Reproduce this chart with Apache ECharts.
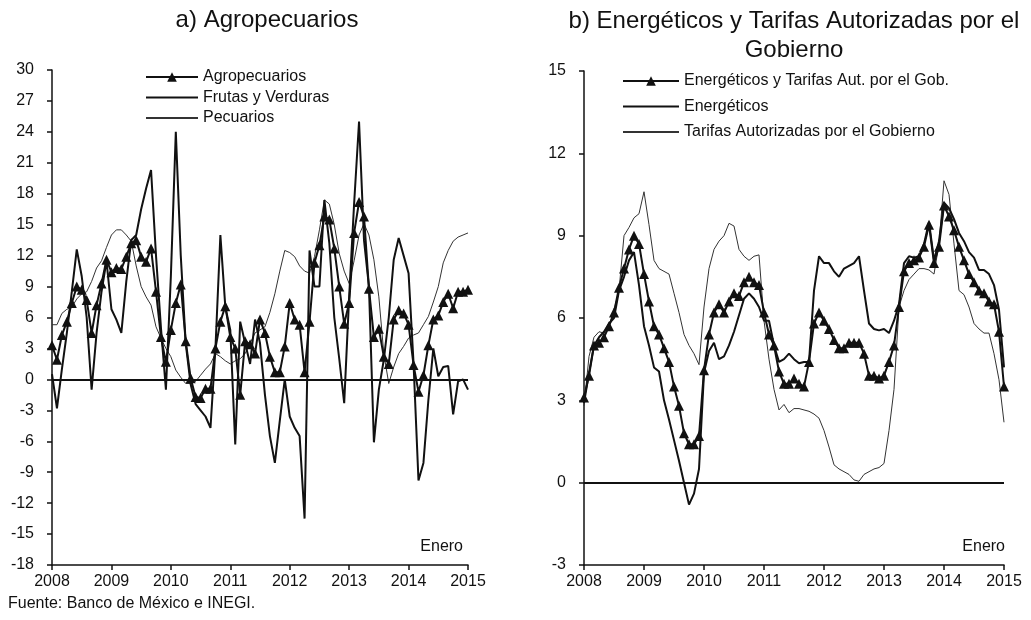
<!DOCTYPE html>
<html>
<head>
<meta charset="utf-8">
<script src="https://cdn.jsdelivr.net/npm/echarts@6/dist/echarts.min.js"></script>
<style>
  html, body { margin: 0; padding: 0; background: #fff; }
  #chart { width: 1031px; height: 620px; }
</style>
</head>
<body>
<div id="chart"></div>
<script>
/* === Data (monthly, Jan 2008 - Jan 2015) === */
const yearLabels = ['2008', '2009', '2010', '2011', '2012', '2013', '2014', '2015'];
const leftTicks = [-18, -15, -12, -9, -6, -3, 0, 3, 6, 9, 12, 15, 18, 21, 24, 27, 30];
const rightTicks = [-3, 0, 3, 6, 9, 12, 15];

const agropecuarios = [
  3.3, 1.9, 4.3, 5.6, 7.4, 9.0, 8.7, 7.7, 4.5, 7.2, 9.3, 11.6,
  10.4, 10.8, 10.7, 11.9, 13.2, 13.5, 11.9, 11.4, 12.7, 8.5, 4.1, 1.7,
  4.8, 7.4, 9.2, 3.7, 0.1, -1.7, -1.8, -0.9, -0.9, 3.0, 5.6, 7.1,
  4.1, 3.0, -1.5, 3.7, 3.4, 2.5, 5.8, 4.5, 2.2, 0.7, 0.7, 3.2,
  7.4, 5.8, 5.3, 0.7, 5.6, 11.3, 13.0, 15.8, 15.5, 12.7, 9.0, 5.4,
  7.4, 14.2, 17.2, 15.8, 8.8, 4.1, 4.9, 2.2, 1.5, 5.8, 6.7, 6.4,
  5.3, 1.4, -1.2, 0.4, 3.3, 5.8, 6.2, 7.5, 8.3, 6.9, 8.5, 8.5,
  8.7
];
const frutasVerduras = [
  0.5, -2.8, 1.0, 4.5, 8.5, 12.6, 10.0, 6.0, -1.0, 4.5, 8.5, 11.5,
  6.8, 5.8, 4.5, 9.5, 13.5, 14.0, 16.5, 18.5, 20.3, 12.0, 5.0, -1.0,
  10.0, 24.0, 12.0, 3.5, -0.5, -2.4, -3.0, -3.6, -4.7, 3.0, 14.0, 7.0,
  4.8, -6.3, 5.6, 3.5, 1.5, 5.8, 3.5, -1.5, -5.5, -8.1, -4.0, 0.0,
  -3.6, -4.7, -5.5, -13.5, 12.5, 9.0, 9.0, 17.4, 13.2, 6.0, 2.0, -2.3,
  8.0, 17.0, 25.0, 13.5, 9.0, -6.1, -1.0, 1.9, 6.0, 11.6, 13.7, 12.0,
  10.3, 1.6, -9.8, -8.1, -2.0, 3.0, 0.3, 1.2, 1.3, -3.4, -0.2, 0.0,
  -1.0
];
const pecuarios = [
  5.3, 5.3, 6.4, 6.8, 7.0, 7.8, 8.3, 8.5, 9.5, 10.8, 11.5, 12.8,
  14.0, 14.5, 14.5, 14.0, 13.4, 11.0, 9.0, 8.0, 7.2, 5.1, 4.0, 3.0,
  2.2, 0.9, 0.2, -0.4, -0.4, -0.2, 0.4, 1.0, 1.5, 2.5, 2.2, 1.8,
  1.5, 1.8, 2.0, 2.5, 3.5, 4.5, 4.8, 5.1, 6.5, 8.3, 10.5, 12.5,
  12.3, 11.9, 11.0, 10.5, 10.3, 11.9, 14.5, 17.4, 17.0, 15.0, 12.2, 10.5,
  9.3, 11.5, 14.0, 15.1, 14.0, 11.6, 8.0, 2.5, -0.4, 1.2, 2.5, 3.2,
  4.0, 4.3, 4.5, 5.3, 6.1, 7.5, 9.0, 11.3, 12.5, 13.4, 13.8, 14.0,
  14.2
];

const energTarifas = [
  3.1, 3.9, 5.0, 5.1, 5.3, 5.7, 6.2, 7.1, 7.8, 8.5, 9.0, 8.7,
  7.6, 6.6, 5.7, 5.4, 4.9, 4.4, 3.5, 2.8, 1.8, 1.4, 1.4, 1.7,
  4.1, 5.4, 6.2, 6.5, 6.2, 6.6, 6.9, 6.8, 7.3, 7.5, 7.3, 7.2,
  6.2, 5.4, 5.0, 4.05, 3.6, 3.6, 3.8, 3.6, 3.5, 4.4, 5.8, 6.2,
  5.9, 5.6, 5.2, 4.9, 4.9, 5.1, 5.1, 5.1, 4.7, 3.9, 3.9, 3.8,
  3.9, 4.4, 5.0, 6.4, 7.7, 8.0, 8.1, 8.2, 8.6, 9.4, 8.0, 8.6,
  10.1, 9.7, 9.2, 8.6, 8.1, 7.6, 7.3, 7.0, 6.9, 6.6, 6.5, 5.5,
  3.5
];
const energeticos = [
  2.9, 4.0, 5.0, 5.3, 5.5, 5.8, 6.0, 7.0, 7.5, 8.1, 8.4, 7.2,
  5.7, 5.0, 4.2, 4.05, 3.0, 2.3, 1.55, 0.8, 0.0, -0.8, -0.4, 0.5,
  4.0, 4.8, 5.1, 4.5, 4.6, 5.0, 5.5, 6.1, 6.7, 6.9, 6.7, 6.4,
  5.9, 5.9, 5.0, 4.4, 4.5, 4.7, 4.5, 4.35, 4.4, 4.4, 7.0, 8.25,
  8.0, 8.0, 7.7, 7.5, 7.8, 7.9, 8.0, 8.25, 7.0, 5.8, 5.6, 5.55,
  5.6, 5.45, 5.9, 6.5, 8.0, 8.25, 8.2, 8.25, 8.7, 9.5, 8.1, 8.8,
  10.2, 10.0, 9.6, 9.1, 8.8, 8.4, 8.2, 7.75, 7.75, 7.6, 7.2, 6.3,
  4.2
];
const tarifasGob = [
  2.8, 4.6, 5.3, 5.5, 5.45, 5.7, 6.3, 7.0, 9.0, 9.3, 9.65, 9.8,
  10.6, 9.4, 8.1, 7.8, 7.7, 7.6, 6.9, 6.2, 5.4, 5.0, 4.7, 4.3,
  6.4, 7.8, 8.5, 8.8, 9.0, 9.45, 9.35, 8.5, 8.25, 8.1, 8.25, 8.3,
  5.9, 4.5, 3.4, 2.65, 2.85, 2.55, 2.7, 2.7, 2.65, 2.6, 2.5, 2.35,
  1.9, 1.3, 0.65, 0.5, 0.4, 0.3, 0.1, 0.05, 0.3, 0.4, 0.5, 0.55,
  0.7, 1.9, 3.4, 6.4, 7.0, 7.4, 7.6, 7.8, 7.8, 7.75, 7.6, 8.7,
  11.0, 10.5, 8.7, 7.0, 6.85, 6.4, 5.8, 5.6, 5.45, 5.45, 4.7, 3.75,
  2.2
];

/* === Style helpers === */
const FONT = "'Liberation Sans', Arial, sans-serif";
const INK = '#111';

function pairs(arr) {
  return arr.map((v, i) => [i, v]);
}

function xAxisFor(gridIndex) {
  return {
    type: 'value', gridIndex,
    min: 0, max: 84, interval: 12,
    axisLine: { onZero: false, lineStyle: { color: INK, width: 1.5 } },
    axisTick: { length: 5, lineStyle: { color: INK, width: 1.5 } },
    splitLine: { show: false },
    axisLabel: {
      color: INK, fontSize: 16, fontFamily: FONT, margin: 9,
      formatter: v => yearLabels[v / 12]
    }
  };
}

function yAxisFor(gridIndex, ticks) {
  return {
    type: 'value', gridIndex,
    min: ticks[0], max: ticks[ticks.length - 1], interval: 3,
    axisLine: { show: true, onZero: false, lineStyle: { color: INK, width: 1.5 } },
    axisTick: { show: true, length: 5, lineStyle: { color: INK, width: 1.5 } },
    splitLine: { show: false },
    axisLabel: { color: INK, fontSize: 16, fontFamily: FONT, margin: 18 }
  };
}

const zeroLine = {
  silent: true, symbol: 'none',
  label: { show: false },
  lineStyle: { color: INK, width: 2, type: 'solid' },
  data: [{ yAxis: 0 }]
};

function lineSeries(name, data, idx, kind, withZero) {
  const s = {
    name, type: 'line', data: pairs(data),
    xAxisIndex: idx, yAxisIndex: idx,
    animation: false
  };
  if (kind === 'tri') {
    Object.assign(s, {
      symbol: 'triangle', symbolSize: 10, showSymbol: true,
      itemStyle: { color: INK },
      lineStyle: { color: INK, width: 2 }
    });
  } else if (kind === 'thick') {
    Object.assign(s, {
      symbol: 'none', itemStyle: { color: INK },
      lineStyle: { color: INK, width: 2 }
    });
  } else {
    Object.assign(s, {
      symbol: 'none', itemStyle: { color: '#333' },
      lineStyle: { color: '#333', width: 1 }
    });
  }
  if (withZero) s.markLine = zeroLine;
  return s;
}

// legend entries: plain lines carry no marker in the icon
const hideMark = name => ({ name, itemStyle: { opacity: 0 } });

const chart = echarts.init(document.getElementById('chart'), null, { renderer: 'canvas' });
chart.setOption({
  backgroundColor: '#fff',
  animation: false,
  title: [
    {
      text: 'a) Agropecuarios', left: 262, top: 3, textAlign: 'center',
      textStyle: { fontSize: 24, fontWeight: 'normal', color: INK, fontFamily: FONT }
    },
    {
      text: 'b) Energéticos y Tarifas Autorizadas por el\nGobierno', left: 789, top: 2, textAlign: 'center',
      textStyle: { fontSize: 24, fontWeight: 'normal', color: INK, fontFamily: FONT, lineHeight: 29, align: 'center' }
    }
  ],
  legend: [
    {
      data: ['Agropecuarios', hideMark('Frutas y Verduras'), hideMark('Pecuarios')],
      orient: 'vertical', left: 145, top: 69, padding: 0,
      itemWidth: 52, itemHeight: 12, itemGap: 4.5,
      textStyle: { fontSize: 16, color: INK, fontFamily: FONT }
    },
    {
      data: ['Energéticos y Tarifas Aut. por el Gob.', hideMark('Energéticos'), hideMark('Tarifas Autorizadas por el Gobierno')],
      orient: 'vertical', left: 622, top: 73, padding: 0,
      itemWidth: 56, itemHeight: 12, itemGap: 9.5,
      textStyle: { fontSize: 16, color: INK, fontFamily: FONT }
    }
  ],
  grid: [
    { left: 52, right: 563, top: 70, bottom: 55 },
    { left: 584, right: 27, top: 71, bottom: 55 }
  ],
  xAxis: [xAxisFor(0), xAxisFor(1)],
  yAxis: [yAxisFor(0, leftTicks), yAxisFor(1, rightTicks)],
  series: [
    lineSeries('Pecuarios', pecuarios, 0, 'thin', true),
    lineSeries('Frutas y Verduras', frutasVerduras, 0, 'thick', false),
    lineSeries('Agropecuarios', agropecuarios, 0, 'tri', false),
    lineSeries('Tarifas Autorizadas por el Gobierno', tarifasGob, 1, 'thin', true),
    lineSeries('Energéticos', energeticos, 1, 'thick', false),
    lineSeries('Energéticos y Tarifas Aut. por el Gob.', energTarifas, 1, 'tri', false)
  ],
  graphic: [
    {
      type: 'text', right: 1031 - 463, top: 539,
      style: { text: 'Enero', fontSize: 16, fill: INK, fontFamily: FONT }
    },
    {
      type: 'text', right: 1031 - 1005, top: 539,
      style: { text: 'Enero', fontSize: 16, fill: INK, fontFamily: FONT }
    },
    {
      type: 'text', left: 8, top: 596,
      style: { text: 'Fuente: Banco de México e INEGI.', fontSize: 16, fill: INK, fontFamily: FONT }
    }
  ]
});
</script>
</body>
</html>
